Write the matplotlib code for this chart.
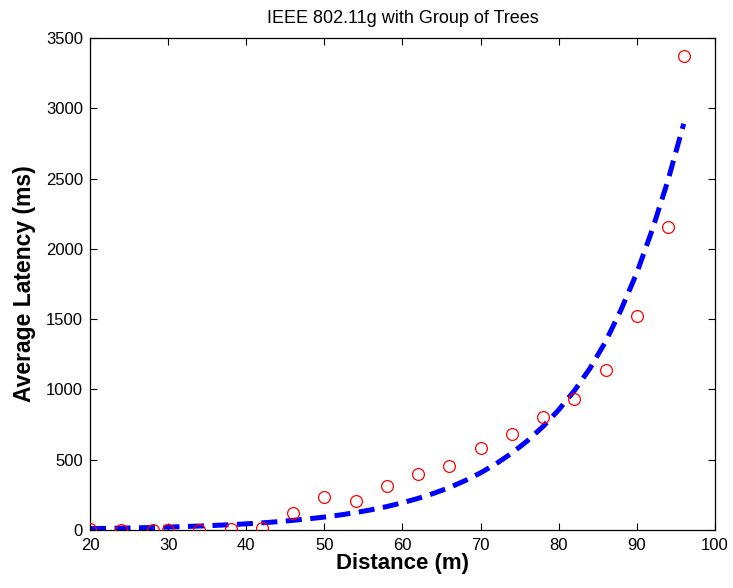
import matplotlib
matplotlib.use("Agg")
import matplotlib.pyplot as plt

plt.rcParams['font.family'] = ['Liberation Sans', 'DejaVu Sans']

# measured data (red circles)
dist_pts = [20, 24, 28, 30, 34, 38, 42, 46, 50, 54, 58, 62, 66, 70, 74, 78, 82, 86, 90, 94, 96]
latency_pts = [5, 2, 2, 2, 3, 5, 15, 120, 237, 206, 313, 398, 455, 583, 683, 803, 931, 1138, 1525, 2152, 3375]

# fitted curve (blue dashed)
dist_fit = [20, 22, 24, 26, 28, 30, 32, 34, 36, 38, 40, 42, 44, 46, 48, 50, 52, 54, 56, 58,
            60, 62, 64, 66, 68, 70, 72, 74, 76, 78, 80, 82, 84, 86, 88, 90, 92, 94, 96]
latency_fit = [10, 11.6, 13.5, 15.6, 18.1, 21, 24.4, 28.3, 32.8, 38, 44, 51, 59, 69, 80, 92,
               107, 124, 144, 167, 194, 225, 261, 302, 351, 407, 472, 547, 635, 737, 855,
               991, 1150, 1340, 1570, 1830, 2140, 2490, 2890]

x_ticks = [20, 30, 40, 50, 60, 70, 80, 90, 100]
y_ticks = [0, 500, 1000, 1500, 2000, 2500, 3000, 3500]

fig = plt.figure(figsize=(7.33, 5.88), dpi=100)
ax = fig.add_axes([0.1228, 0.0986, 0.8526, 0.8368])

ax.plot(dist_fit, latency_fit, color='#0000ff', linewidth=3.6, dashes=(3.2, 1.7),
        dash_capstyle='butt', zorder=2)
ax.plot(dist_pts, latency_pts, linestyle='none', marker='o', markersize=8.5,
        markerfacecolor='none', markeredgecolor='#ff0000', markeredgewidth=0.9, zorder=3)

ax.set_xlim(20, 100)
ax.set_ylim(0, 3500)
ax.set_xticks(x_ticks)
ax.set_yticks(y_ticks)
ax.tick_params(direction='in', length=5, width=0.8, labelsize=12, top=True, right=True)
ax.tick_params(axis='x', labeltop=False, pad=6)
ax.tick_params(axis='y', labelright=False, pad=5)
for s in ax.spines.values():
    s.set_linewidth(0.9)

ax.set_title('IEEE 802.11g with Group of Trees', fontsize=13, pad=11)
ax.set_xlabel('Distance (m)', fontsize=16, fontweight='bold', labelpad=0)
ax.set_ylabel('Average Latency (ms)', fontsize=16.5, fontweight='bold', labelpad=7)

fig.savefig('out.png', dpi=100)
